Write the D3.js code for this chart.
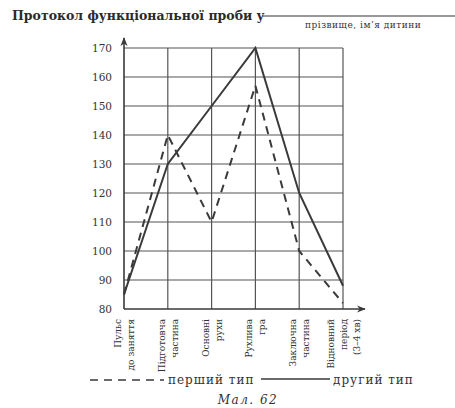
<!DOCTYPE html>
<html>
<head>
<meta charset="utf-8">
<script src="https://cdn.jsdelivr.net/npm/d3@7"></script>
<style>
  body { margin: 0; background: #fff; }
  svg { font-family: "DejaVu Serif", "Liberation Serif", serif; }
</style>
</head>
<body>
<svg id="chart" width="455" height="408"></svg>
<script>
// stages of the lesson (x categories)
const stages = [
  ["Пульс", "до заняття"],
  ["Підготовча", "частина"],
  ["Основні", "рухи"],
  ["Рухлива", "гра"],
  ["Заключна", "частина"],
  ["Відновний", "період", "(3–4 хв)"]
];
const stageKeys = stages.map(d => d.join(" "));

// pulse values
const firstType = [85, 140, 110, 157, 100, 82];   // dashed
const secondType = [85, 130, 150, 170, 120, 88];  // solid

const yTicks = [80, 90, 100, 110, 120, 130, 140, 150, 160, 170];

const svg = d3.select("#chart");
const ink = "#3a3a3a";

const x = d3.scalePoint().domain(stageKeys).range([124, 343]).padding(0);
const y = d3.scaleLinear().domain([80, 170]).range([309, 48]);

// title
svg.append("text")
  .attr("x", 12).attr("y", 20)
  .attr("font-size", 12.5).attr("font-weight", "bold").attr("fill", "#2a2a2a")
  .text("Протокол функціональної проби у");
svg.append("line")
  .attr("x1", 262).attr("x2", 455).attr("y1", 16).attr("y2", 16)
  .attr("stroke", "#333").attr("stroke-width", 1);
svg.append("text")
  .attr("x", 305).attr("y", 28)
  .attr("font-size", 9).attr("letter-spacing", 0.5).attr("fill", "#333")
  .text("прізвище, ім’я дитини");

const grid = svg.append("g").attr("stroke", "#555").attr("stroke-width", 1.2);

// horizontal grid
grid.selectAll("line.h").data(yTicks.slice(1)).enter().append("line")
  .attr("x1", x.range()[0]).attr("x2", x.range()[1])
  .attr("y1", d => y(d)).attr("y2", d => y(d));

// vertical grid (except axis)
grid.selectAll("line.v").data(stageKeys.slice(1)).enter().append("line")
  .attr("x1", d => x(d)).attr("x2", d => x(d))
  .attr("y1", y(170)).attr("y2", y(80));

// axes with arrows
svg.append("defs").append("marker")
  .attr("id", "arr").attr("viewBox", "0 0 10 10")
  .attr("refX", 9).attr("refY", 5)
  .attr("markerWidth", 9).attr("markerHeight", 9)
  .attr("markerUnits", "userSpaceOnUse")
  .attr("orient", "auto")
  .append("path").attr("d", "M0,1 L10,5 L0,9 L3,5 Z").attr("fill", ink);

svg.append("line")
  .attr("x1", x.range()[0]).attr("x2", x.range()[0])
  .attr("y1", y(80)).attr("y2", y(170) - 10)
  .attr("stroke", ink).attr("stroke-width", 1.6)
  .attr("marker-end", "url(#arr)");
svg.append("line")
  .attr("x1", x.range()[0]).attr("x2", x.range()[1] + 22)
  .attr("y1", y(80)).attr("y2", y(80))
  .attr("stroke", ink).attr("stroke-width", 1.6)
  .attr("marker-end", "url(#arr)");

// y tick labels
const yAxis = svg.append("g")
  .attr("transform", `translate(${x.range()[0]},0)`)
  .call(d3.axisLeft(y).tickValues(yTicks).tickSize(0).tickPadding(12));
yAxis.select(".domain").remove();
yAxis.selectAll("text")
  .attr("font-family", "DejaVu Serif, serif")
  .attr("font-size", 10.5).attr("fill", "#333");

// x labels, rotated
const xl = svg.append("g").selectAll("text").data(stages).enter().append("text")
  .attr("transform", (d, i) => `translate(${x(stageKeys[i])},${y(80) + 10}) rotate(-90)`)
  .attr("text-anchor", "end")
  .attr("font-size", 9).attr("fill", "#333");
xl.selectAll("tspan").data(d => d.map((t, j) => ({ t, j, n: d.length }))).enter()
  .append("tspan")
  .attr("x", 0)
  .attr("y", d => (d.j - (d.n - 1) / 2) * 13 + 3.5)
  .text(d => d.t);

// data lines
const line = d3.line().x((d, i) => x(stageKeys[i])).y(d => y(d));

svg.append("path").datum(secondType)
  .attr("d", line).attr("fill", "none")
  .attr("stroke", ink).attr("stroke-width", 2);
svg.append("path").datum(firstType)
  .attr("d", line).attr("fill", "none")
  .attr("stroke", ink).attr("stroke-width", 2)
  .attr("stroke-dasharray", "8,6");

// legend
const ly = 380;
svg.append("line")
  .attr("x1", 90).attr("x2", 164).attr("y1", ly).attr("y2", ly)
  .attr("stroke", ink).attr("stroke-width", 1.6).attr("stroke-dasharray", "8,6");
svg.append("text").attr("x", 168).attr("y", ly + 4)
  .attr("font-size", 12).attr("letter-spacing", 1).attr("fill", "#333").text("перший тип");
svg.append("line")
  .attr("x1", 261).attr("x2", 330).attr("y1", ly - 1).attr("y2", ly - 1)
  .attr("stroke", ink).attr("stroke-width", 1.4);
svg.append("text").attr("x", 333).attr("y", ly + 4)
  .attr("font-size", 12).attr("letter-spacing", 1).attr("fill", "#333").text("другий тип");

svg.append("text").attr("x", 248).attr("y", 404)
  .attr("text-anchor", "middle").attr("font-style", "italic")
  .attr("font-size", 12).attr("letter-spacing", 1.5).attr("fill", "#333").text("Мал. 62");
</script>
</body>
</html>
